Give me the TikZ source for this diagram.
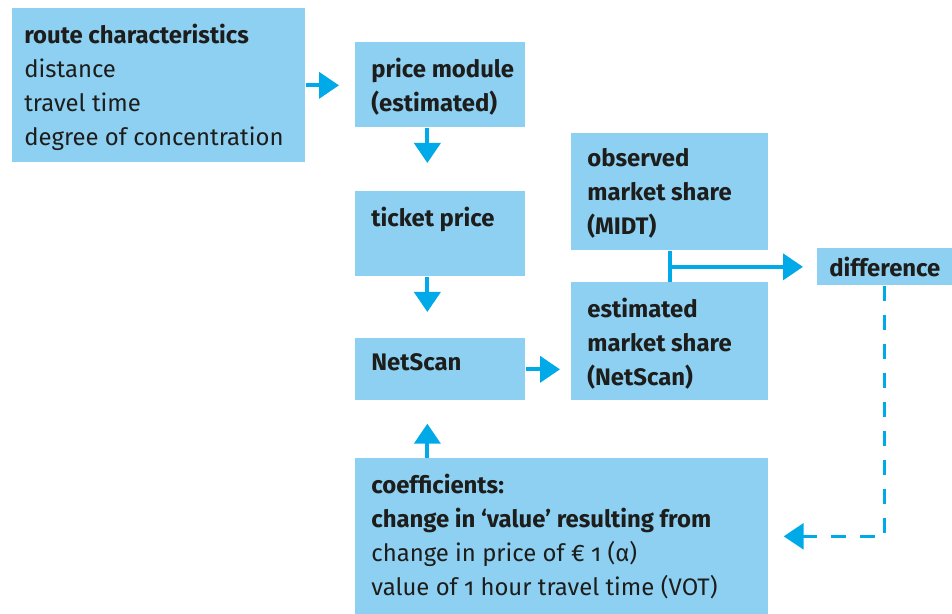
\documentclass[tikz,border=0pt]{standalone}
\usepackage{fontspec}
\setmainfont{Fira Sans}[Numbers=OldStyle]
\usepackage{tikz}
\usetikzlibrary{calc,arrows.meta}
\definecolor{boxblue}{RGB}{141,208,242}
\definecolor{arrowblue}{RGB}{0,169,232}
\definecolor{textdark}{RGB}{29,29,27}
\newcommand{\boxfont}{\fontsize{13.6}{19.35}\selectfont}

\begin{document}
\begin{tikzpicture}[
	box/.style={anchor=north west, fill=boxblue, inner sep=0pt},
	txt/.style={anchor=north west, align=left, inner xsep=0.32cm, inner ysep=0.31cm, font=\boxfont, text=textdark},
	ln/.style={draw=arrowblue, line width=0.08cm},
	arr/.style={ln, -{Triangle[length=0.4cm, width=0.52cm]}},
	dsh/.style={arr, line width=0.06cm, dash pattern=on 0.3cm off 0.28cm}]
	\useasboundingbox (0,0) rectangle (19.04,-12.28);

	% Boxes, placed by their top left corner
	\node [box, minimum width=5.86cm, minimum height=3.08cm, label={[txt, inner xsep=0.24cm]north west:{\textbf{route characteristics}\\distance\\travel time\\degree of concentration}}] (route) at (0.24,-0.16) {};
	\node [box, minimum width=3.4cm, minimum height=1.7cm, label={[txt]north west:{\textbf{price module}\\\textbf{(estimated)}}}] (price) at (7.10,-0.84) {};
	\node [box, minimum width=3.4cm, minimum height=1.7cm, label={[txt]north west:{\textbf{ticket price}}}] (ticket) at (7.10,-3.82) {};
	\node [box, minimum width=3.4cm, minimum height=1.24cm, label={[txt]north west:{\textbf{NetScan}}}] (netscan) at (7.10,-6.76) {};
	\node [box, minimum width=8.26cm, minimum height=3.12cm, label={[txt]north west:{\textbf{coefficients:}\\\textbf{change in `value' resulting from}\\change in price of € 1 (α)\\value of 1 hour travel time (VOT)}}] (coef) at (7.10,-9.16) {};
	\node [box, minimum width=3.94cm, minimum height=2.34cm, label={[txt]north west:{\textbf{observed}\\\textbf{market share}\\\textbf{(MIDT)}}}] (observed) at (11.42,-2.66) {};
	\node [box, minimum width=3.94cm, minimum height=2.36cm, label={[txt]north west:{\textbf{estimated}\\\textbf{market share}\\\textbf{(NetScan)}}}] (estimated) at (11.42,-5.64) {};
	\node [box, minimum width=2.7cm, minimum height=0.74cm, font=\boxfont\bfseries, text=textdark] (diff) at (16.34,-4.96) {difference};

	% Arrows
	\draw [arr, shorten >=0.32cm] (route.east) -- (route.east -| price.west);
	\draw [arr, shorten >=0.56cm] ([xshift=-0.26cm]price.south) -- ([xshift=-0.26cm]ticket.north);
	\draw [arr, shorten >=0.52cm] ([xshift=-0.26cm]ticket.south) -- ([xshift=-0.26cm]netscan.north);
	\draw [arr, shorten >=0.46cm] ([xshift=-0.26cm]netscan.south |- coef.north) -- ([xshift=-0.26cm]netscan.south);
	\draw [arr, shorten >=0.22cm] (netscan.east) -- (netscan.east -| estimated.west);

	% Observed and estimated share compared
	\draw [ln] (observed.south) -- (estimated.north);
	\draw [arr, shorten >=0.28cm] (observed.south |- diff.west) -- (diff.west);

	% Feedback to the coefficients
	\draw [dsh, shorten >=0.3cm] (diff.south) |- (coef.east);
\end{tikzpicture}
\end{document}
